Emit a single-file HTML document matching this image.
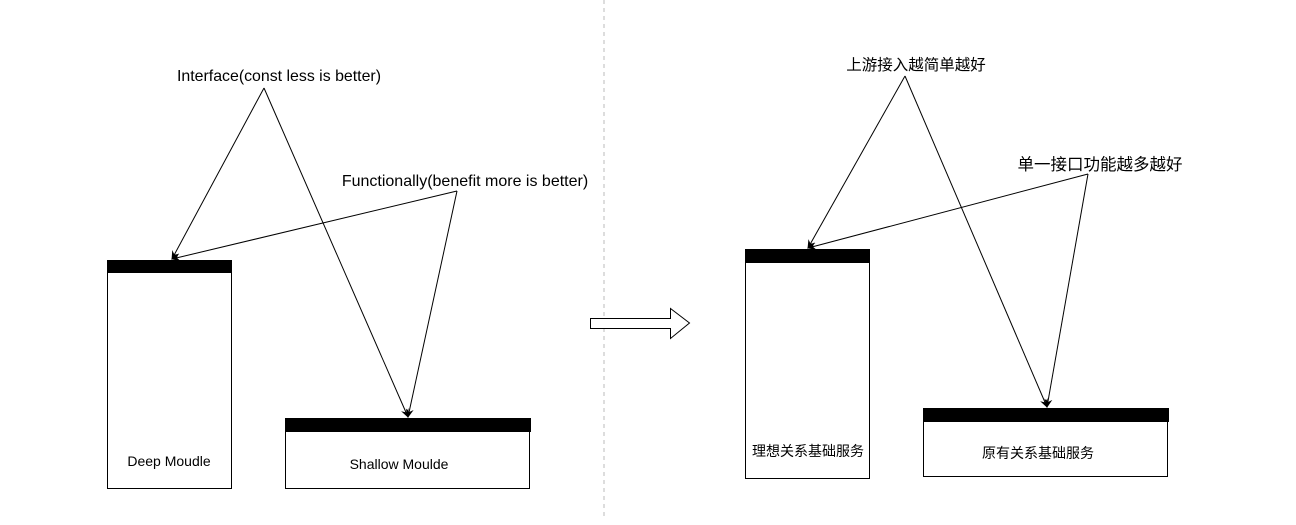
<!DOCTYPE html>
<html><head><style>
body{margin:0;background:#fff;}
svg text{font-family:"Liberation Sans","Noto Sans CJK SC",sans-serif;font-size:14px;fill:#000;}
</style></head><body>
<svg width="1296" height="520" xmlns="http://www.w3.org/2000/svg">
<defs><marker id="a" markerWidth="10" markerHeight="10" refX="8" refY="5" orient="auto" markerUnits="userSpaceOnUse"><path d="M0,1 L9,5 L0,9 L3,5 Z" fill="#000"/></marker></defs>
<line x1="604" y1="0" x2="604" y2="520" stroke="#bbb" stroke-dasharray="4,4"/>
<rect x="107.5" y="260.5" width="124" height="228" fill="#fff" stroke="#000"/>
<rect x="107" y="260" width="125" height="13" fill="#000"/>
<text x="169" y="466" text-anchor="middle" font-size="13">Deep Moudle</text>
<rect x="285.5" y="418.5" width="244" height="70" fill="#fff" stroke="#000"/>
<rect x="285" y="418" width="246" height="14" fill="#000"/>
<text x="399" y="469" text-anchor="middle" font-size="13">Shallow Moulde</text>
<text x="279" y="81" text-anchor="middle" style="font-size:15.9px">Interface(const less is better)</text>
<text x="465" y="186" text-anchor="middle" style="font-size:16px">Functionally(benefit more is better)</text>
<g stroke="#000" stroke-width="1" fill="none">
<line x1="264" y1="88" x2="172" y2="259" marker-end="url(#a)"/>
<line x1="264" y1="88" x2="408" y2="417" marker-end="url(#a)"/>
<line x1="457" y1="191" x2="172" y2="259" marker-end="url(#a)"/>
<line x1="457" y1="191" x2="408" y2="417" marker-end="url(#a)"/>
</g>
<path d="M590.5,318.5 H670.5 V308.5 L689.5,323 L670.5,338.5 V328.5 H590.5 Z" fill="#fff" stroke="#000"/>
<rect x="745.5" y="249.5" width="124" height="229" fill="#fff" stroke="#000"/>
<rect x="745" y="249" width="125" height="14" fill="#000"/>
<text x="808" y="456" text-anchor="middle" font-size="13">理想关系基础服务</text>
<rect x="923.5" y="408.5" width="244" height="68" fill="#fff" stroke="#000"/>
<rect x="923" y="408" width="246" height="14" fill="#000"/>
<text x="1038" y="458" text-anchor="middle" font-size="13">原有关系基础服务</text>
<text x="916" y="70" text-anchor="middle" style="font-size:15.5px">上游接入越简单越好</text>
<text x="1100" y="170" text-anchor="middle" style="font-size:16.5px">单一接口功能越多越好</text>
<g stroke="#000" stroke-width="1" fill="none">
<line x1="905" y1="76" x2="808" y2="248" marker-end="url(#a)"/>
<line x1="905" y1="76" x2="1047" y2="407" marker-end="url(#a)"/>
<line x1="1088" y1="174" x2="808" y2="248" marker-end="url(#a)"/>
<line x1="1088" y1="174" x2="1047" y2="407" marker-end="url(#a)"/>
</g>
</svg>
</body></html>
